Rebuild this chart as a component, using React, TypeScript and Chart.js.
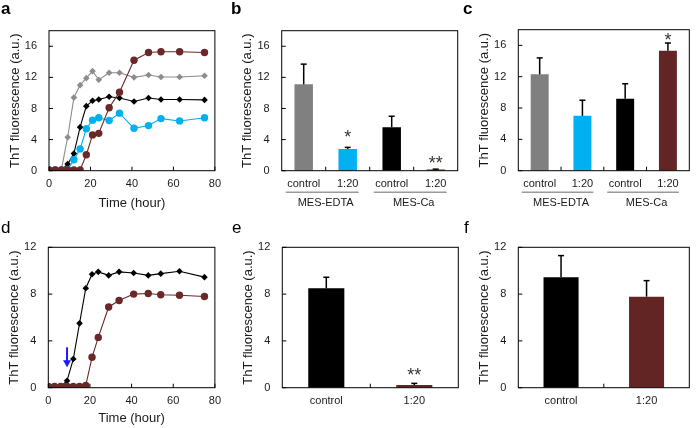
import React, { useEffect, useRef } from 'react';
import { Chart, registerables } from 'chart.js';

Chart.register(...registerables);

// ---------- data ----------
const timeHours = [0, 3, 6, 9, 12, 15, 18, 21, 24, 29, 34, 41, 48, 54, 63, 75];
const aGrayValues = [0.1, 0.1, 0.2, 4.3, 9.4, 11.0, 11.9, 12.8, 11.7, 12.6, 12.6, 12.0, 12.3, 12.05, 12.05, 12.2];
const aBlackValues = [0.1, 0.1, 0.1, 0.85, 2.2, 5.6, 8.3, 9.0, 9.15, 9.5, 9.35, 8.9, 9.35, 9.15, 9.15, 9.1];
const aBlueValues = [0.1, 0.1, 0.1, 0.1, 1.4, 2.8, 5.4, 6.5, 6.8, 6.45, 7.4, 5.45, 5.8, 6.7, 6.4, 6.8];
const aBrownValues = [0.1, 0.1, 0.1, 0.1, 0.1, 0.1, 2.05, 4.6, 4.8, 8.1, 10.1, 14.2, 15.2, 15.3, 15.3, 15.2];
const dBlackValues = [0.1, 0.1, 0.1, 0.6, 2.45, 5.5, 8.5, 9.7, 9.9, 9.6, 9.9, 9.8, 9.6, 9.75, 9.95, 9.45];
const dBrownValues = [0.1, 0.1, 0.1, 0.1, 0.1, 0.1, 0.2, 2.6, 4.3, 6.9, 7.45, 8.0, 8.05, 7.95, 7.9, 7.8];

const fourLabels = ['control', '1:20', 'control', '1:20'];
const groupNames = ['MES-EDTA', 'MES-Ca'];
const bValues = [11.1, 2.8, 5.6, 0.15];
const bErrors = [2.6, 0.2, 1.4, 0.05];
const bStars = ['', '*', '', '**'];
const bStarLevels = [0, 4.85, 0, 1.6];
const cValues = [12.3, 7.0, 9.2, 15.3];
const cErrors = [2.1, 2.0, 1.9, 1.0];
const cStars = ['', '', '', '*'];
const cStarLevels = [0, 0, 0, 17.2];

const twoLabels = ['control', '1:20'];
const eValues = [8.5, 0.23];
const eErrors = [0.94, 0.14];
const eStars = ['', '**'];
const eStarLevels = [0, 1.45];
const fValues = [9.44, 7.78];
const fErrors = [1.85, 1.37];
const fStars = ['', ''];
const fStarLevels = [0, 0];

const arrowHour = 9;
const arrowFrom = 3.45;
const arrowTo = 1.75;

const yTicksTop = [0, 4, 8, 12, 16];
const yTicksBottom = [0, 4, 8, 12];
const xTicksTime = [0, 20, 40, 60, 80];

// ---------- style ----------
const FONT = '"Liberation Sans", Arial, Helvetica, sans-serif';
const TXT = '#1a1a1a';
const GRAY = '#808080';
const LGRAY = '#8c8c8c';
const BLUE = '#00b0f0';
const BLACK = '#000000';
const BROWN = '#632523';
const LBROWN = '#6b2828';
const ARROW = '#1a1aff';

type Area = { l: number; t: number; r: number; b: number };

type Decor = {
  letter: string;
  bold: boolean;
  lx: number;
  ly: number;
  yTitle: string;
  xTitle?: string;
  xTitleDy?: number;
  bars?: { values: number[]; errors: number[]; stars: string[]; levels: number[] };
  groups?: string[];
  arrow?: { x: number; from: number; to: number };
  ox: number;
  oy: number;
};

function line(ctx: CanvasRenderingContext2D, x1: number, y1: number, x2: number, y2: number) {
  ctx.beginPath();
  ctx.moveTo(x1, y1);
  ctx.lineTo(x2, y2);
  ctx.stroke();
}

function decorPlugin(d: Decor) {
  return {
    id: 'decor',
    afterDatasetsDraw(chart: any) {
      const { ctx, scales } = chart;
      const xs = scales.x;
      const ys = scales.y;
      ctx.save();
      if (d.bars) {
        const meta = chart.getDatasetMeta(0);
        d.bars.values.forEach((v, i) => {
          const x = meta.data[i].x;
          const yb = ys.getPixelForValue(v);
          const yt = ys.getPixelForValue(v + d.bars!.errors[i]);
          ctx.strokeStyle = '#000';
          ctx.lineWidth = 1.5;
          line(ctx, x, yb, x, yt);
          line(ctx, x - 3, yt, x + 3, yt);
          const s = d.bars!.stars[i];
          if (s) {
            const size = 18;
            ctx.fillStyle = '#333';
            ctx.font = `${size}px ${FONT}`;
            ctx.textAlign = 'center';
            ctx.textBaseline = 'alphabetic';
            ctx.fillText(s, x, ys.getPixelForValue(d.bars!.levels[i]) + size * 0.57);
          }
        });
      }
      if (d.arrow) {
        const x = xs.getPixelForValue(d.arrow.x);
        const y1 = ys.getPixelForValue(d.arrow.from);
        const y2 = ys.getPixelForValue(d.arrow.to);
        ctx.strokeStyle = ARROW;
        ctx.fillStyle = ARROW;
        ctx.lineWidth = 2;
        line(ctx, x, y1, x, y2 - 6);
        ctx.beginPath();
        ctx.moveTo(x - 4, y2 - 7);
        ctx.lineTo(x + 4, y2 - 7);
        ctx.lineTo(x, y2);
        ctx.closePath();
        ctx.fill();
      }
      ctx.restore();
    },
    afterDraw(chart: any) {
      const { ctx, chartArea: ca, scales } = chart;
      const xs = scales.x;
      const ys = scales.y;
      ctx.save();
      ctx.strokeStyle = '#000';
      ctx.lineWidth = 1;
      ctx.strokeRect(ca.left, ca.top, ca.right - ca.left, ca.bottom - ca.top);
      ys.ticks.forEach((t: any) => {
        const p = ys.getPixelForValue(t.value);
        line(ctx, ca.left, p, ca.left + 4, p);
      });
      if (xs.type === 'linear') {
        xs.ticks.forEach((t: any) => {
          const p = xs.getPixelForValue(t.value);
          line(ctx, p, ca.bottom, p, ca.bottom - 4);
        });
      } else {
        const n = xs.ticks.length;
        for (let i = 1; i < n; i++) {
          const p = (xs.getPixelForTick(i - 1) + xs.getPixelForTick(i)) / 2;
          line(ctx, p, ca.bottom, p, ca.bottom - 4);
        }
      }
      ctx.fillStyle = TXT;
      ctx.font = `13px ${FONT}`;
      ctx.textAlign = 'center';
      ctx.textBaseline = 'middle';
      ctx.save();
      ctx.translate(ca.left - 34, (ca.top + ca.bottom) / 2);
      ctx.rotate(-Math.PI / 2);
      ctx.fillText(d.yTitle, 0, 0);
      ctx.restore();
      if (d.xTitle) {
        ctx.fillText(d.xTitle, (ca.left + ca.right) / 2, ca.bottom + (d.xTitleDy || 32));
      }
      if (d.groups) {
        ctx.font = `11px ${FONT}`;
        d.groups.forEach((g, gi) => {
          const p0 = xs.getPixelForTick(gi * 2);
          const p1 = xs.getPixelForTick(gi * 2 + 1);
          ctx.strokeStyle = '#9a9a9a';
          ctx.lineWidth = 1.5;
          line(ctx, p0 - 18, ca.bottom + 21.5, p1 + 11, ca.bottom + 21.5);
          ctx.fillText(g, (p0 + p1) / 2, ca.bottom + 32.5);
        });
      }
      ctx.fillStyle = '#000';
      ctx.font = `${d.bold ? 'bold ' : ''}17px ${FONT}`;
      ctx.textAlign = 'left';
      ctx.textBaseline = 'alphabetic';
      ctx.fillText(d.letter, d.lx - d.ox, d.ly - d.oy);
      ctx.restore();
    },
  };
}

function yScale(max: number, ticks: number[], width: number) {
  return {
    type: 'linear',
    min: 0,
    max,
    afterBuildTicks: (s: any) => {
      s.ticks = ticks.map((v) => ({ value: v }));
    },
    afterFit: (s: any) => {
      s.width = width;
    },
    grid: { display: false, drawTicks: false },
    border: { display: false },
    ticks: { font: { size: 11, family: FONT }, color: TXT, padding: 12 },
  };
}

function commonOptions(area: Area, ox: number, oy: number, w: number) {
  return {
    animation: false,
    responsive: false,
    events: [],
    layout: { padding: { left: 0, top: area.t - oy, right: ox + w - area.r, bottom: 0 } },
    plugins: { legend: { display: false }, tooltip: { enabled: false } },
  };
}

function lineConfig(series: { values: number[]; color: string; style: string; radius: number }[], yMax: number, yTicks: number[], area: Area, ox: number, oy: number, w: number, h: number, decor: Decor) {
  return {
    type: 'line',
    data: {
      datasets: series.map((s) => ({
        data: timeHours.map((x, i) => ({ x, y: s.values[i] })),
        borderColor: s.color,
        backgroundColor: s.color,
        borderWidth: 1.1,
        pointStyle: s.style,
        pointRadius: s.radius,
        pointBorderWidth: 0,
        pointBackgroundColor: s.color,
        tension: 0,
      })),
    },
    options: {
      ...commonOptions(area, ox, oy, w),
      scales: {
        x: {
          type: 'linear',
          min: 0,
          max: 80,
          afterBuildTicks: (s: any) => {
            s.ticks = xTicksTime.map((v) => ({ value: v }));
          },
          afterFit: (s: any) => {
            s.height = oy + h - area.b;
          },
          grid: { display: false, drawTicks: false },
          border: { display: false },
          ticks: { font: { size: 11, family: FONT }, color: TXT, padding: 7, maxRotation: 0, autoSkip: false },
        },
        y: yScale(yMax, yTicks, area.l - ox),
      },
    },
    plugins: [decorPlugin(decor)],
  };
}

function barConfig(labels: string[], values: number[], colors: string[], pct: number, yMax: number, yTicks: number[], area: Area, ox: number, oy: number, w: number, h: number, decor: Decor) {
  return {
    type: 'bar',
    data: {
      labels,
      datasets: [
        {
          data: values,
          backgroundColor: colors,
          borderWidth: 0,
          categoryPercentage: 1,
          barPercentage: pct,
        },
      ],
    },
    options: {
      ...commonOptions(area, ox, oy, w),
      scales: {
        x: {
          type: 'category',
          offset: true,
          afterFit: (s: any) => {
            s.height = oy + h - area.b;
          },
          grid: { display: false, drawTicks: false },
          border: { display: false },
          ticks: { font: { size: 11, family: FONT }, color: TXT, padding: 7, maxRotation: 0, autoSkip: false },
        },
        y: yScale(yMax, yTicks, area.l - ox),
      },
    },
    plugins: [decorPlugin(decor)],
  };
}

type PanelDef = { x: number; y: number; w: number; h: number; build: () => any };

function Panel({ def }: { def: PanelDef }) {
  const ref = useRef<HTMLCanvasElement>(null);
  useEffect(() => {
    const chart = new Chart(ref.current as HTMLCanvasElement, def.build());
    return () => chart.destroy();
  }, []);
  return (
    <div style={{ position: 'absolute', left: def.x, top: def.y, width: def.w, height: def.h }}>
      <canvas ref={ref} width={def.w} height={def.h} style={{ width: def.w, height: def.h, display: 'block' }} />
    </div>
  );
}

const COLS = [
  { x: 0, w: 228 },
  { x: 228, w: 232 },
  { x: 460, w: 240 },
];
const ROWS = [
  { y: 0, h: 214 },
  { y: 214, h: 214 },
];

const areaA: Area = { l: 49, t: 30.7, r: 217, b: 170.7 };
const areaB: Area = { l: 281.7, t: 30.7, r: 457.7, b: 170.7 };
const areaC: Area = { l: 518.3, t: 29.7, r: 689.3, b: 170.7 };
const areaD: Area = { l: 48.3, t: 247.3, r: 217.7, b: 387.7 };
const areaE: Area = { l: 282.3, t: 247.3, r: 458.3, b: 387.7 };
const areaF: Area = { l: 518.3, t: 247.3, r: 689.3, b: 387.7 };

const YT = 'ThT fluorescence (a.u.)';

const panels: PanelDef[] = [
  {
    x: COLS[0].x, y: ROWS[0].y, w: COLS[0].w, h: ROWS[0].h,
    build: () =>
      lineConfig(
        [
          { values: aBrownValues, color: LBROWN, style: 'circle', radius: 3.7 },
          { values: aBlueValues, color: BLUE, style: 'circle', radius: 3.7 },
          { values: aBlackValues, color: BLACK, style: 'rectRot', radius: 3.3 },
          { values: aGrayValues, color: LGRAY, style: 'rectRot', radius: 3.3 },
        ],
        18, yTicksTop, areaA, COLS[0].x, ROWS[0].y, COLS[0].w, ROWS[0].h,
        { letter: 'a', bold: true, lx: 1, ly: 14, yTitle: YT, xTitle: 'Time (hour)', xTitleDy: 32.5, ox: COLS[0].x, oy: ROWS[0].y }
      ),
  },
  {
    x: COLS[1].x, y: ROWS[0].y, w: COLS[1].w, h: ROWS[0].h,
    build: () =>
      barConfig(fourLabels, bValues, [GRAY, BLUE, BLACK, BROWN], 0.42, 18, yTicksTop, areaB, COLS[1].x, ROWS[0].y, COLS[1].w, ROWS[0].h,
        { letter: 'b', bold: true, lx: 231, ly: 14, yTitle: YT, groups: groupNames, bars: { values: bValues, errors: bErrors, stars: bStars, levels: bStarLevels }, ox: COLS[1].x, oy: ROWS[0].y }),
  },
  {
    x: COLS[2].x, y: ROWS[0].y, w: COLS[2].w, h: ROWS[0].h,
    build: () =>
      barConfig(fourLabels, cValues, [GRAY, BLUE, BLACK, BROWN], 0.42, 18, yTicksTop, areaC, COLS[2].x, ROWS[0].y, COLS[2].w, ROWS[0].h,
        { letter: 'c', bold: true, lx: 463, ly: 14, yTitle: YT, groups: groupNames, bars: { values: cValues, errors: cErrors, stars: cStars, levels: cStarLevels }, ox: COLS[2].x, oy: ROWS[0].y }),
  },
  {
    x: COLS[0].x, y: ROWS[1].y, w: COLS[0].w, h: ROWS[1].h,
    build: () =>
      lineConfig(
        [
          { values: dBrownValues, color: LBROWN, style: 'circle', radius: 3.7 },
          { values: dBlackValues, color: BLACK, style: 'rectRot', radius: 3.3 },
        ],
        12, yTicksBottom, areaD, COLS[0].x, ROWS[1].y, COLS[0].w, ROWS[1].h,
        { letter: 'd', bold: false, lx: 1, ly: 233, yTitle: YT, xTitle: 'Time (hour)', xTitleDy: 31, arrow: { x: arrowHour, from: arrowFrom, to: arrowTo }, ox: COLS[0].x, oy: ROWS[1].y }
      ),
  },
  {
    x: COLS[1].x, y: ROWS[1].y, w: COLS[1].w, h: ROWS[1].h,
    build: () =>
      barConfig(twoLabels, eValues, [BLACK, BROWN], 0.41, 12, yTicksBottom, areaE, COLS[1].x, ROWS[1].y, COLS[1].w, ROWS[1].h,
        { letter: 'e', bold: false, lx: 232, ly: 233, yTitle: YT, bars: { values: eValues, errors: eErrors, stars: eStars, levels: eStarLevels }, ox: COLS[1].x, oy: ROWS[1].y }),
  },
  {
    x: COLS[2].x, y: ROWS[1].y, w: COLS[2].w, h: ROWS[1].h,
    build: () =>
      barConfig(twoLabels, fValues, [BLACK, BROWN], 0.41, 12, yTicksBottom, areaF, COLS[2].x, ROWS[1].y, COLS[2].w, ROWS[1].h,
        { letter: 'f', bold: false, lx: 464, ly: 233, yTitle: YT, bars: { values: fValues, errors: fErrors, stars: fStars, levels: fStarLevels }, ox: COLS[2].x, oy: ROWS[1].y }),
  },
];

export default function App() {
  return (
    <div style={{ position: 'absolute', left: 0, top: 0, width: 700, height: 428, background: '#fff', overflow: 'hidden' }}>
      {panels.map((p, i) => (
        <Panel key={i} def={p} />
      ))}
    </div>
  );
}
